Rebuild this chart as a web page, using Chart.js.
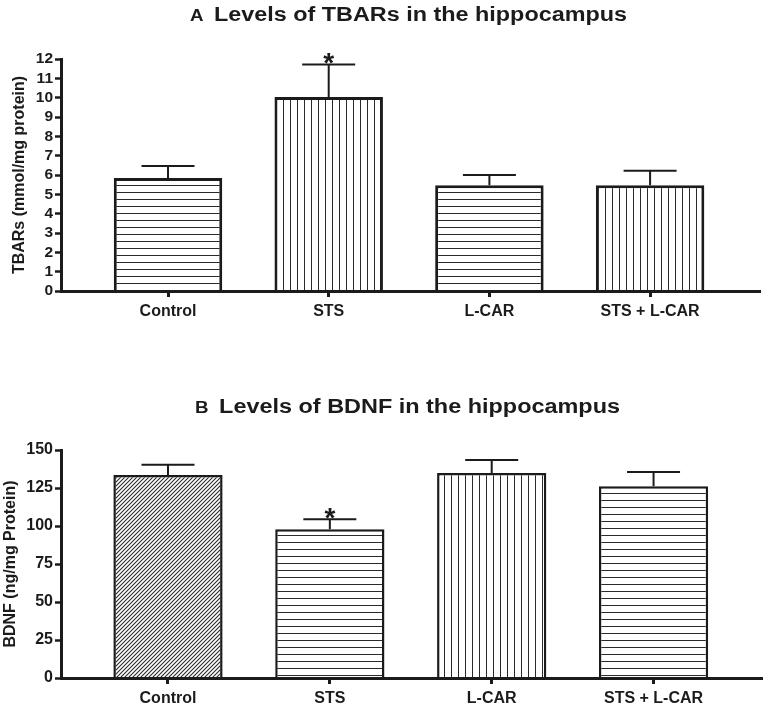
<!DOCTYPE html>
<html>
<head>
<meta charset="utf-8">
<script src="https://cdn.jsdelivr.net/npm/chart.js@4.4.1/dist/chart.umd.min.js"></script>
<style>
  html, body { margin:0; padding:0; background:#fff; }
  body { width:764px; height:709px; position:relative; overflow:hidden; }
  .panel { position:absolute; left:0; width:764px; }
  #panelA { top:0; height:335px; }
  #panelB { top:350px; height:359px; }
</style>
</head>
<body>
<div class="panel" id="panelA"><canvas id="chartA" width="764" height="335"></canvas></div>
<div class="panel" id="panelB"><canvas id="chartB" width="764" height="359"></canvas></div>

<script>
/* ---- data ---- */
var groups = ['Control', 'STS', 'L-CAR', 'STS + L-CAR'];

var tbarsMean = [5.85, 10.03, 5.47, 5.47];
var tbarsErr  = [0.62, 1.68, 0.53, 0.75];
var tbarsSig  = [false, true, false, false];
var tbarsTicks = [0, 1, 2, 3, 4, 5, 6, 7, 8, 9, 10, 11, 12];

var bdnfMean = [133.5, 97.8, 134.8, 126.2];
var bdnfErr  = [6.8, 6.6, 8.6, 9.4];
var bdnfSig  = [false, true, false, false];
var bdnfTicks = [0, 25, 50, 75, 100, 125, 150];

var tbarsFill = ['h', 'v', 'h', 'v'];
var bdnfFill  = ['d', 'h', 'v', 'h'];

var INK = '#1b1b1b';
var FONT = "'Liberation Sans', Arial, Helvetica, sans-serif";

/* ---- hatch patterns ---- */
function makePattern(kind){
  var c = document.createElement('canvas');
  var g = c.getContext('2d');
  if(kind === 'd'){
    c.width = 4; c.height = 4;
    g.fillStyle = '#fff'; g.fillRect(0, 0, 4, 4);
    g.strokeStyle = '#2a2a2a'; g.lineWidth = 1.1;
    g.beginPath();
    g.moveTo(-1, 5); g.lineTo(5, -1);
    g.moveTo(-3, 3); g.lineTo(3, -3);
    g.moveTo(1, 7); g.lineTo(7, 1);
    g.stroke();
  } else {
    c.width = 7; c.height = 7;
    g.fillStyle = '#fff'; g.fillRect(0, 0, 7, 7);
    g.fillStyle = '#2a2a2a';
    if(kind === 'h') g.fillRect(0, 3, 7, 1);
    else g.fillRect(3, 0, 1, 7);
  }
  return g.createPattern(c, 'repeat');
}

/* ---- error bars + significance stars ---- */
var errorBarPlugin = {
  id: 'errorBars',
  afterDatasetsDraw: function(chart, args, opts){
    var ctx = chart.ctx;
    var meta = chart.getDatasetMeta(0);
    var ys = chart.scales.y;
    ctx.save();
    ctx.strokeStyle = INK;
    ctx.lineWidth = 2;
    meta.data.forEach(function(bar, i){
      var top = ys.getPixelForValue(opts.mean[i] + opts.err[i]);
      var base = ys.getPixelForValue(opts.mean[i]);
      ctx.beginPath();
      ctx.moveTo(bar.x, base);
      ctx.lineTo(bar.x, top);
      ctx.moveTo(bar.x - 26.5, top);
      ctx.lineTo(bar.x + 26.5, top);
      ctx.stroke();
      if(opts.sig[i]){
        ctx.fillStyle = INK;
        ctx.font = 'bold 28px ' + FONT;
        ctx.textAlign = 'center';
        ctx.textBaseline = 'alphabetic';
        ctx.fillText('*', bar.x, top - 9 + 0.58 * 28);
      }
    });
    ctx.restore();
  }
};

/* ---- panel title: small letter + bold text, fitted to the original span ---- */
var panelTitlePlugin = {
  id: 'panelTitle',
  afterDraw: function(chart, args, opts){
    var ctx = chart.ctx;
    ctx.save();
    ctx.fillStyle = INK;
    ctx.textBaseline = 'alphabetic';
    ctx.textAlign = 'left';
    ctx.font = 'bold 16px ' + FONT;
    var wl = ctx.measureText(opts.letter).width;
    ctx.font = 'bold 20px ' + FONT;
    var wt = ctx.measureText(opts.text).width;
    var gap = 9;
    var sx = (opts.x1 - opts.x0) / (wl + gap + wt);
    ctx.translate(opts.x0, opts.baseline);
    ctx.scale(sx, 1);
    ctx.font = 'bold 16px ' + FONT;
    ctx.fillText(opts.letter, 0, 0);
    ctx.font = 'bold 20px ' + FONT;
    ctx.fillText(opts.text, wl + gap, 0);
    ctx.restore();
  }
};

function buildPanel(id, cfg){
  var ctx = document.getElementById(id);
  var pts = groups.map(function(g, i){ return {x: i, y: cfg.mean[i]}; });
  return new Chart(ctx, {
    type: 'bar',
    data: {
      datasets: [{
        data: pts,
        backgroundColor: cfg.fill.map(makePattern),
        borderColor: INK,
        borderWidth: cfg.border,
        borderSkipped: 'start',
        categoryPercentage: 1,
        barPercentage: 0.675
      }]
    },
    plugins: [errorBarPlugin, panelTitlePlugin],
    options: {
      responsive: false,
      animation: false,
      events: [],
      layout: { padding: { top: cfg.padTop, left: 0, right: cfg.padRight, bottom: 0 } },
      plugins: {
        legend: { display: false },
        tooltip: { enabled: false },
        title: { display: false },
        errorBars: { mean: cfg.mean, err: cfg.err, sig: cfg.sig },
        panelTitle: { letter: cfg.letter, text: cfg.title, x0: cfg.titleX0, x1: cfg.titleX1, baseline: cfg.titleY }
      },
      scales: {
        x: {
          type: 'linear',
          offset: false,
          min: cfg.xMin,
          max: cfg.xMax,
          afterFit: function(s){ s.height = cfg.xHeight; },
          afterBuildTicks: function(s){ s.ticks = groups.map(function(g, i){ return {value: i}; }); },
          ticks: {
            autoSkip: false, maxRotation: 0, padding: 5,
            color: INK, font: { family: FONT, size: 16, weight: 'bold' },
            callback: function(v){ return groups[v]; }
          },
          grid: { display: true, offset: false, drawOnChartArea: false, drawTicks: true, tickLength: 6, tickWidth: 3, tickColor: INK, color: INK },
          border: { display: true, color: INK, width: 3, z: 1 }
        },
        y: {
          min: 0,
          max: cfg.ticks[cfg.ticks.length - 1],
          afterFit: function(s){ s.width = 61; },
          afterBuildTicks: function(s){ s.ticks = cfg.ticks.map(function(v){ return {value: v}; }); },
          ticks: {
            autoSkip: false,
            padding: 2,
            color: INK, font: { family: FONT, size: cfg.tickSize, weight: 'bold' }
          },
          grid: { display: true, drawOnChartArea: false, drawTicks: true, tickLength: 6, tickWidth: 2.5, tickColor: INK, color: INK },
          border: { display: true, color: INK, width: 3, z: 1 },
          title: {
            display: true, text: cfg.yTitle, color: INK,
            font: { family: FONT, size: 16, weight: 'bold' },
            padding: { top: cfg.yTitlePad, bottom: 0 }
          }
        }
      }
    }
  });
}

buildPanel('chartA', {
  mean: tbarsMean, err: tbarsErr, sig: tbarsSig, ticks: tbarsTicks, fill: tbarsFill,
  letter: 'A', title: 'Levels of TBARs in the hippocampus', titleY: 21, titleX0: 190, titleX1: 627,
  yTitle: 'TBARs (mmol/mg protein)', yTitlePad: 10,
  padTop: 59, padRight: 4, xHeight: 335 - 291, border: 3, tickSize: 15.5,
  xMin: -0.666, xMax: 3.684
});

buildPanel('chartB', {
  mean: bdnfMean, err: bdnfErr, sig: bdnfSig, ticks: bdnfTicks, fill: bdnfFill,
  letter: 'B', title: 'Levels of BDNF in the hippocampus', titleY: 63, titleX0: 195, titleX1: 620,
  yTitle: 'BDNF (ng/mg Protein)', yTitlePad: 1,
  padTop: 100, padRight: 2, xHeight: 359 - 328, border: 2.5, tickSize: 16,
  xMin: -0.661, xMax: 3.67
});
</script>
</body>
</html>
